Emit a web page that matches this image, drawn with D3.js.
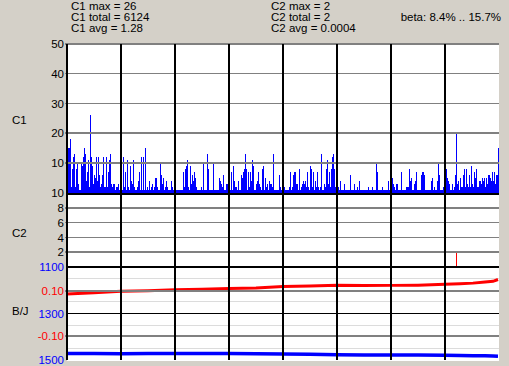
<!DOCTYPE html>
<html>
<head>
<meta charset="utf-8">
<script src="https://cdn.jsdelivr.net/npm/d3@7"></script>
<style>
body { margin:0; background:#d4d0c8; }
svg { display:block; font-family:"Liberation Sans", Arial, sans-serif; }
</style>
</head>
<body>
<svg width="509" height="366"></svg>
<script>
// C1 counts, one per pixel column of the plot
var c1 = [
15,15,15,18,2,8,12,13,2,8, 10,3,1,1,10,9,12,15,13,4, 7,11,2,26,12,9,3,6,5,12,
4,12,6,2,3,6,12,2,2,12, 2,7,11,13,3,2,3,3,1,2, 2,3,1,1,2,1,12,2,7,1,
11,2,1,9,4,3,11,2,1,1, 2,4,7,1,12,1,12,1,15,1, 2,1,4,1,2,3,1,2,5,5,
2,1,1,10,6,3,5,1,2,4, 2,1,1,1,4,2,1,3,3,1, 1,1,1,1,1,1,7,2,8,9,
11,2,1,9,3,6,4,7,5,2, 1,1,1,1,2,1,10,1,1,1, 13,8,1,1,1,1,10,1,1,1,
1,1,5,4,3,2,6,1,1,3, 3,3,3,1,7,1,9,4,2,2, 1,4,1,1,6,5,7,8,13,8,
1,7,2,7,4,11,9,1,1,3, 4,7,3,2,1,8,9,1,5,2, 3,1,4,3,3,2,13,1,1,1,
1,1,6,2,1,6,6,2,1,1, 1,1,2,7,1,2,6,7,7,3, 3,1,8,1,2,3,4,3,4,2,
7,2,1,9,8,2,7,1,4,2, 7,2,1,2,13,1,1,3,2,8, 11,3,7,2,8,12,13,8,2,1,
2,2,1,4,1,1,1,3,1,1, 1,1,1,6,1,1,1,3,1,1, 2,1,4,1,1,1,1,1,1,1,
1,2,1,1,1,2,1,1,1,10, 7,1,1,1,1,2,1,1,1,1, 1,4,1,5,5,5,3,2,1,3,
3,1,1,1,7,1,1,1,1,2, 2,2,8,4,5,1,1,3,4,7, 1,1,1,1,6,7,7,6,1,1,
1,1,1,1,4,5,1,2,1,1, 4,10,6,1,1,1,2,6,1,8, 5,4,3,1,1,3,1,2,6,20,
3,4,1,5,2,2,6,8,2,8, 3,2,6,2,9,3,2,7,5,8, 2,2,4,4,3,5,4,5,2,5,
3,6,6,5,4,7,4,7,3,6, 6,15
];
var c2Index = [389];
var c2Values = [2];

// B/J panel, sampled along the run
var bjIndex = [0,27,54,81,108,135,162,189,216,243,270,297,324,351,378,393,406,418,426,431];
var betaValues = [0.087,0.092,0.0985,0.101,0.106,0.1075,0.111,0.113,0.120,0.122,0.125,0.124,0.125,0.126,0.1296,0.132,0.135,0.140,0.143,0.151];
var bjValues = [1472,1472,1473,1472,1472,1472,1472,1473,1474,1475,1477,1478,1479,1479,1480,1481,1482,1482,1483,1484];

var c1Ticks = [10,20,30,40,50];
var c2Ticks = [2,4,6,8,10];
var bjTicks = [1100,1300,1500];
var betaTicks = [0.10,-0.10];
var bjLight = [1150,1250,1350,1450];

var headerLeft = ["C1 max = 26","C1 total = 6124","C1 avg = 1.28"];
var headerMid = ["C2 max = 2","C2 total = 2","C2 avg = 0.0004"];
var betaText = "beta: 8.4% .. 15.7%";

function draw() {
    var svg = d3.select("svg");
    var left = 67, right = 499, top = 44, bottom = 360;

    var x = d3.scaleLinear().domain([0, 432]).range([left, right]);
    var y1 = d3.scaleLinear().domain([0, 50]).range([192.5, top]);
    var y2 = d3.scaleLinear().domain([0, 10]).range([267, 193]);
    var yBj = d3.scaleLinear().domain([1100, 1500]).range([267, bottom]);
    var yBeta = d3.scaleLinear().domain([-0.2, 0.2]).range([358.5, 268.5]);

    svg.append("rect").attr("x", left).attr("y", top)
        .attr("width", right - left).attr("height", bottom - top + 1)
        .attr("fill", "#fff");

    // header text
    var fs = "11.5px";
    svg.selectAll(".hl").data(headerLeft).enter().append("text")
        .attr("x", 71).attr("y", function(d, i){ return 10 + i * 11; })
        .attr("font-size", fs).text(function(d){ return d; });
    svg.selectAll(".hm").data(headerMid).enter().append("text")
        .attr("x", 271).attr("y", function(d, i){ return 10 + i * 11; })
        .attr("font-size", fs).text(function(d){ return d; });
    svg.append("text").attr("x", 501).attr("y", 21).attr("text-anchor", "end")
        .attr("font-size", fs).text(betaText);

    // panel labels
    [["C1", 120], ["C2", 232.5], ["B/J", 311]].forEach(function(p){
        svg.append("text").attr("x", 12).attr("y", p[1]).attr("dy", "0.35em")
            .attr("font-size", fs).text(p[0]);
    });

    var g = svg.append("g").attr("shape-rendering", "crispEdges");

    // B/J light grid
    g.selectAll(".light").data(bjLight).enter().append("line")
        .attr("x1", left).attr("x2", right)
        .attr("y1", function(d){ return yBj(d); }).attr("y2", function(d){ return yBj(d); })
        .attr("stroke", "#dcdcdc");

    // C1 bars
    g.selectAll(".bar").data(c1).enter().append("rect")
        .attr("x", function(d, i){ return x(i); })
        .attr("y", function(d){ return y1(d); })
        .attr("width", 1)
        .attr("height", function(d){ return y1(0) - y1(d); })
        .attr("fill", "#0000ff");

    // C2 bars
    g.selectAll(".bar2").data(c2Values).enter().append("rect")
        .attr("x", function(d, i){ return x(c2Index[i]); })
        .attr("y", function(d){ return y2(d); })
        .attr("width", 1)
        .attr("height", function(d){ return 267 - y2(d); })
        .attr("fill", "#ff0000");

    // B/J lines
    var beta = d3.line().x(function(d, i){ return x(bjIndex[i]); }).y(function(d){ return yBeta(d); });
    var bj = d3.line().x(function(d, i){ return x(bjIndex[i]); }).y(function(d){ return yBj(d); });
    svg.append("path").attr("d", beta(betaValues)).attr("fill", "none")
        .attr("stroke", "#ff0000").attr("stroke-width", 3);
    svg.append("path").attr("d", bj(bjValues)).attr("fill", "none")
        .attr("stroke", "#0000ff").attr("stroke-width", 3.5);

    var grid = svg.append("g").attr("shape-rendering", "crispEdges");

    // horizontal grid lines
    var gray = c1Ticks.map(function(d){ return y1(d); })
        .concat(c2Ticks.slice(0, 4).map(function(d){ return y2(d); }))
        .concat(betaTicks.map(function(d){ return yBeta(d); }));
    grid.selectAll(".hg").data(gray).enter().append("line")
        .attr("x1", 65).attr("x2", right)
        .attr("y1", function(d){ return d; }).attr("y2", function(d){ return d; })
        .attr("stroke", "#808080").attr("stroke-width", 1.5);
    grid.append("line").attr("x1", left).attr("x2", right)
        .attr("y1", yBj(1300)).attr("y2", yBj(1300)).attr("stroke", "#000");

    // vertical grid lines
    var xs = d3.range(0, 432, 54);
    grid.selectAll(".vg").data(xs).enter().append("line")
        .attr("x1", function(d){ return x(d); }).attr("x2", function(d){ return x(d); })
        .attr("y1", top).attr("y2", bottom)
        .attr("stroke", "#000").attr("stroke-width", 2);

    // panel base lines
    grid.append("line").attr("x1", left).attr("x2", right)
        .attr("y1", 193.5).attr("y2", 193.5).attr("stroke", "#000").attr("stroke-width", 2);
    grid.append("line").attr("x1", left).attr("x2", right)
        .attr("y1", 267).attr("y2", 267).attr("stroke", "#000").attr("stroke-width", 2.5);

    // axes
    function axis(scale, ticks, color, fmt) {
        var a = svg.append("g").attr("transform", "translate(" + left + ",0)")
            .call(d3.axisLeft(scale).tickValues(ticks).tickSize(0).tickPadding(3)
                .tickFormat(fmt || function(d){ return d; }));
        a.select(".domain").remove();
        a.selectAll("text").attr("font-size", fs).attr("fill", color)
            .attr("font-family", "Liberation Sans, Arial, sans-serif");
    }
    axis(y1, c1Ticks, "#000");
    axis(y2, c2Ticks, "#000");
    axis(yBj, bjTicks, "#0000ff");
    axis(yBeta, betaTicks, "#ff0000", function(d){ return d.toFixed(2); });
}

draw();
</script>
</body>
</html>
